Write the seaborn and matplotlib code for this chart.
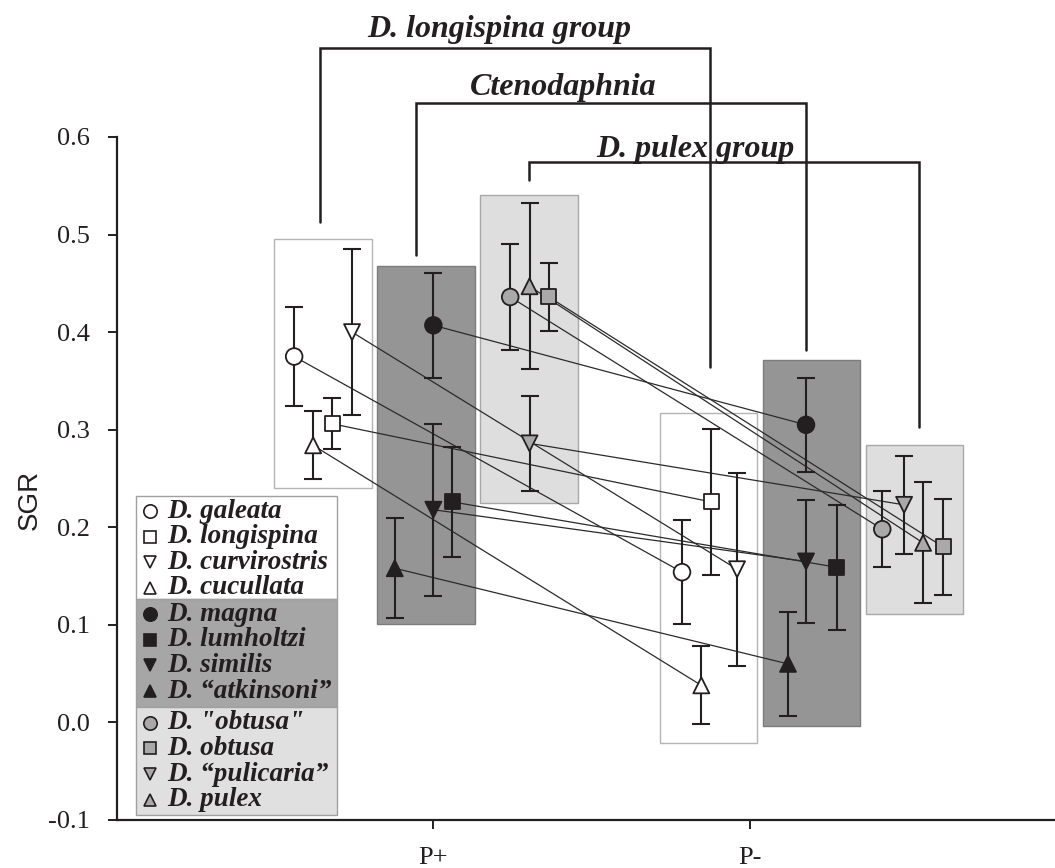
import matplotlib
matplotlib.use("Agg")
import matplotlib.pyplot as plt
import seaborn as sns
import pandas as pd
from matplotlib.patches import Rectangle

# ---------------- data ----------------
species = ["D. galeata", "D. longispina", "D. curvirostris", "D. cucullata",
           "D. magna", "D. lumholtzi", "D. similis", "D. \u201catkinsoni\u201d",
           'D. "obtusa"', "D. obtusa", "D. \u201cpulicaria\u201d", "D. pulex"]
groups = ["longispina"] * 4 + ["Ctenodaphnia"] * 4 + ["pulex"] * 4
shapes = ["o", "s", "v", "^"] * 3
conditions = ["P+", "P-"]

sgr_p_plus = [0.375, 0.306, 0.400, 0.284, 0.407, 0.226, 0.218, 0.158, 0.436, 0.436, 0.286, 0.447]
err_p_plus = [0.051, 0.026, 0.085, 0.035, 0.054, 0.056, 0.088, 0.051, 0.054, 0.035, 0.049, 0.085]
sgr_p_minus = [0.154, 0.226, 0.157, 0.038, 0.305, 0.159, 0.165, 0.060, 0.198, 0.180, 0.223, 0.184]
err_p_minus = [0.053, 0.075, 0.099, 0.040, 0.048, 0.064, 0.063, 0.053, 0.039, 0.049, 0.050, 0.062]

group_titles = ["D. longispina group", "Ctenodaphnia", "D. pulex group"]
yticks = [-0.1, 0.0, 0.1, 0.2, 0.3, 0.4, 0.5, 0.6]
ytick_labels = ["-0.1", "0.0", "0.1", "0.2", "0.3", "0.4", "0.5", "0.6"]

# ---------------- layout / style ----------------
cond_pos = [1.0, 2.0]
off_plus = [-0.440, -0.319, -0.257, -0.380, 0.0, 0.060, 0.0, -0.122, 0.243, 0.365, 0.304, 0.304]
off_minus = [-0.214, -0.122, -0.040, -0.153, 0.178, 0.275, 0.178, 0.121, 0.419, 0.611, 0.488, 0.548]

INK = "#231f20"
face = {"longispina": "#ffffff", "Ctenodaphnia": INK, "pulex": "#a9a9a9"}
msize = {"o": 12.0, "s": 10.8, "v": 11.5, "^": 11.5}
# shaded boxes: (x0, x1, y0, y1, face, edge)
boxes = [
    (0.495, 0.805, 0.240, 0.495, "#ffffff", "#b4b4b4"),
    (0.821, 1.131, 0.101, 0.468, "#959595", "#7c7c7c"),
    (1.147, 1.457, 0.225, 0.541, "#dedede", "#a8a8a8"),
    (1.716, 2.024, -0.021, 0.3175, "#ffffff", "#b4b4b4"),
    (2.042, 2.350, -0.004, 0.371, "#959595", "#7c7c7c"),
    (2.367, 2.675, 0.111, 0.284, "#dedede", "#a8a8a8"),
]
# brackets: (x_left, x_right, y_top, y_left_end, y_right_end, label_x, label_y)
brackets = [
    (0.6415, 1.8734, 0.6915, 0.513, 0.364, 1.207, 0.7025),
    (0.9453, 2.177, 0.6345, 0.479, 0.382, 1.409, 0.643),
    (1.3038, 2.5358, 0.5741, 0.556, 0.303, 1.8275, 0.5795),
]
legend_sections = [(0.2322, 0.1266, "#ffffff"), (0.1266, 0.0153, "#a6a6a6"), (0.0153, -0.095, "#e0e0e0")]
legend_x0, legend_x1 = 0.0611, 0.694

sns.set_style("ticks")
plt.rcParams["font.family"] = ["Liberation Serif", "DejaVu Serif"]
plt.rcParams["axes.unicode_minus"] = False

fig = plt.figure(figsize=(10.55, 8.68), dpi=100)
ax = fig.add_axes([0.1109, 0.0553, 0.8891, 0.7869])

rows = []
for i, sp in enumerate(species):
    for c, (vals, errs, offs) in enumerate([(sgr_p_plus, err_p_plus, off_plus),
                                             (sgr_p_minus, err_p_minus, off_minus)]):
        rows.append({"species": sp, "group": groups[i], "shape": shapes[i],
                     "condition": conditions[c], "x": cond_pos[c] + offs[i],
                     "SGR": vals[i], "err": errs[i]})
df = pd.DataFrame(rows)

for x0, x1, y0, y1, fc, ec in boxes:
    ax.add_patch(Rectangle((x0, y0), x1 - x0, y1 - y0, facecolor=fc, edgecolor=ec,
                           lw=1.0, zorder=1))

sns.lineplot(data=df, x="x", y="SGR", units="species", estimator=None, color="#2b2b2b",
             lw=0.9, legend=False, ax=ax, zorder=2)

ax.errorbar(df["x"], df["SGR"], yerr=df["err"], fmt="none", ecolor=INK, elinewidth=1.5,
            capsize=6.7, capthick=1.5, zorder=3)

for shp in ["o", "s", "v", "^"]:
    sub = df[df["shape"] == shp]
    sns.scatterplot(data=sub, x="x", y="SGR", hue="group", palette=face, marker=shp,
                    s=msize[shp] ** 2, edgecolor=INK, linewidth=1.3, legend=False,
                    ax=ax, zorder=4)

# group brackets
for (xl, xr, yt, yl, yr, lx, ly), title in zip(brackets, group_titles):
    ax.plot([xl, xl, xr, xr], [yl, yt, yt, yr], color=INK, lw=1.8, clip_on=False,
            solid_joinstyle="miter", zorder=5)
    ax.text(lx, ly, title, ha="center", va="baseline", fontsize=23, fontweight="bold",
            fontstyle="italic", color=INK, clip_on=False, zorder=6)

# custom sectioned legend
row_step = 0.0262
for s_idx, (top, bot, fc) in enumerate(legend_sections):
    ax.add_patch(Rectangle((legend_x0, bot), legend_x1 - legend_x0, top - bot,
                           facecolor=fc, edgecolor="#a0a0a0", lw=1.0, zorder=6))
    for k in range(4):
        i = s_idx * 4 + k
        yy = top - 0.0158 - k * row_step
        ax.plot([0.1035], [yy], marker=shapes[i], markersize=msize[shapes[i]] * 0.8,
                markerfacecolor=face[groups[i]], markeredgecolor=INK, markeredgewidth=1.2,
                linestyle="none", zorder=7)
        ax.text(0.159, yy, species[i], ha="left", va="center", fontsize=19.5,
                fontweight="bold", fontstyle="italic", color=INK, zorder=7)

ax.set_xlim(0, 2.965)
ax.set_ylim(-0.1, 0.6)
ax.set_xticks(cond_pos)
ax.set_xticklabels(conditions, fontsize=19)
ax.set_yticks(yticks)
ax.set_yticklabels(ytick_labels, fontsize=19)
ax.tick_params(axis="both", direction="out", length=6.5, width=1.4, pad=13, color=INK,
               labelcolor=INK)
ax.set_xlabel("")
ax.set_ylabel("SGR", fontsize=20, family=["Liberation Sans", "DejaVu Sans"], color=INK)
ax.yaxis.set_label_coords(-0.079, 0.4685)
for side in ["top", "right"]:
    ax.spines[side].set_visible(False)
for side in ["left", "bottom"]:
    ax.spines[side].set_linewidth(1.6)
    ax.spines[side].set_color(INK)

fig.savefig("out.png", dpi=100)
